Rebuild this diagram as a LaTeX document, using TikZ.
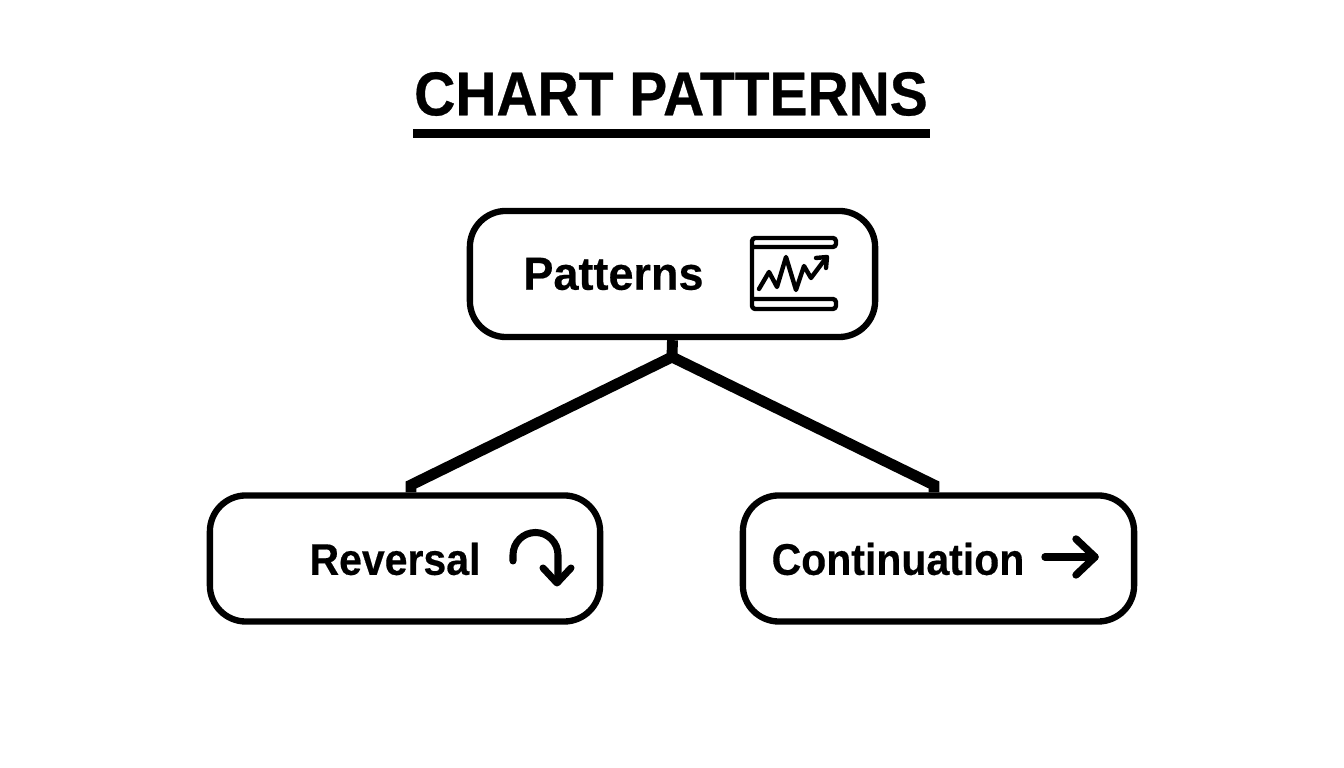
\documentclass[tikz,border=0pt]{standalone}
\usepackage{fontspec}
\setmainfont{Liberation Sans}
\usetikzlibrary{calc}
\usetikzlibrary{positioning}

\tikzset{
    patbox/.style={draw,line width=1.8pt,rounded corners=0.36cm,minimum height=1.26cm,inner sep=0pt},
    patlabel/.style={font=\bfseries\fontsize{12.6}{15}\selectfont\addfontfeature{FakeStretch=0.925,FakeBold=0.4},inner sep=0pt},
    link/.style={line width=3.1pt,line join=miter},
    icon/.style={line cap=round,line join=round}
}

\begin{document}
\begin{tikzpicture}[x=0.01cm,y=-0.01cm]
        \useasboundingbox (0,0) rectangle (1344,768);
        % title
        \node[inner sep=0pt,font=\bfseries\fontsize{17.6}{20}\selectfont\addfontfeature{FakeStretch=0.92,FakeBold=0.5}] (title) at (671,94) {CHART PATTERNS};
        \draw[line width=2.55pt] (413,133.5) -- (930,133.5);
        % boxes
        \node[patbox,minimum width=4.05cm] (patterns) at (672.5,274) {};
        \node[patbox,minimum width=3.90cm] (reversal) at (405,558.5) {};
        \node[patbox,minimum width=3.91cm] (continuation) at (938.5,558.5) {};
        \node[inner sep=0pt,font=\bfseries\fontsize{13.2}{15}\selectfont\addfontfeature{FakeStretch=0.97,FakeBold=0.4}] (patternstext) at (613.5,274) {Patterns};
        \node[patlabel] (reversaltext) at (395,559) {Reversal};
        \node[patlabel] (continuationtext) at (898,559) {Continuation};
        % connectors
        \coordinate (fork) at (672,357);
        \coordinate (leftbend) at (411,485);
        \coordinate (rightbend) at (934,485);
        \draw[link] (patterns.south) -- (fork);
        \draw[link] (reversal.north -| leftbend) -- (leftbend) -- (fork) -- (rightbend) -- (continuation.north -| rightbend);
        % chart icon
        \draw[icon,line width=1.25pt,rounded corners=0.9pt] (752,247) -- (836,247) -- (836,238) -- (752,238) -- (752,309) -- (836,309) -- (836,299) -- (752,299);
        \draw[icon,line width=1.25pt] (759,289) -- (769,272) -- (777,287) -- (786,257) -- (796,290) -- (804,266) -- (811,278) -- (826,258);
        \draw[icon,line width=1.25pt] (816,258) -- (827,257) -- (826,268);
        % reversal icon
        \draw[icon,line width=2pt] (513,561) -- (513,555) arc (180:360:22.5) -- (558,582);
        \draw[icon,line width=2pt] (543,568) -- (557,583) -- (571,568);
        % continuation icon
        \draw[icon,line width=2.1pt] (1045,557) -- (1095,557);
        \draw[icon,line width=2.1pt] (1076,539) -- (1095,557) -- (1076,575);
    \end{tikzpicture}
\end{document}
